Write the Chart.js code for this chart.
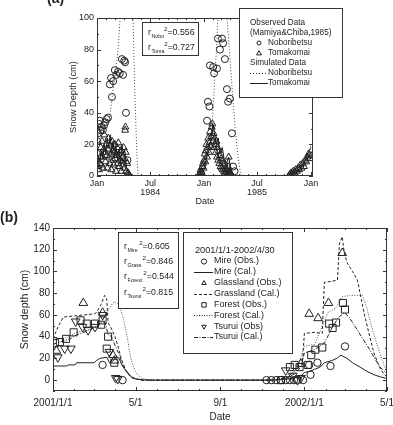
<!DOCTYPE html>
<html>
<head>
<meta charset="utf-8">
<script src="https://cdn.jsdelivr.net/npm/chart.js@4.4.1/dist/chart.umd.min.js"></script>
<style>
  html, body { margin: 0; padding: 0; background: #fff; }
  #wrap { position: relative; width: 393px; height: 425px; overflow: hidden; }
  canvas { position: absolute; left: 0; }
  #ca { top: 0; }
  #cb { top: 210px; }
</style>
</head>
<body>
<div id="wrap">
  <canvas id="ca" width="393" height="210"></canvas>
  <canvas id="cb" width="393" height="215"></canvas>
</div>
<script>
// ---- (a) 1984-1985, x = days since 1984/1/1 ----
const aTickDays = [0, 182, 366, 547, 731];
const aTickLabels = ['Jan', ['Jul', '1984'], 'Jan', ['Jul', '1985'], 'Jan'];
const aYTicks = [0, 20, 40, 60, 80, 100];

const noboObsDay = [1, 3, 6, 9, 12, 16, 20, 24, 28, 33, 38, 44, 48, 51, 55, 61, 66, 72, 78, 85, 89, 93, 96, 99, 104,
  376, 379, 384, 386, 397, 400, 410, 413, 420, 427, 431, 437, 444, 448, 454, 461, 465, 470];
const noboObsCm = [22, 27, 33, 35, 29, 31, 29, 32, 34, 36, 37, 58, 62, 50, 60, 67, 64, 66, 65, 74, 64, 73, 72, 40, 10,
  35, 47, 44, 70, 69, 65, 68, 87, 80, 87, 84, 74, 55, 47, 49, 27, 6, 3];

const tomaObsDay = [1, 3, 5, 7, 9, 11, 13, 15, 17, 19, 21, 23, 25, 27, 29, 31, 33, 35, 37, 39, 41, 43, 45, 47, 49,
  51, 53, 55, 57, 59, 61, 63, 65, 67, 69, 71, 73, 75, 77, 79, 81, 83, 85, 87, 89, 91, 93, 95, 96, 97, 98, 100, 103, 106, 109, 112,
  350, 352, 354, 356, 358, 360, 362, 364, 366, 368, 370, 372, 374, 376, 378, 380, 382, 384, 386, 388,
  390, 392, 394, 396, 398, 400, 402, 404, 406, 408, 410, 412, 414, 416, 418, 420, 422, 424, 426, 428,
  430, 432, 434, 436, 438, 440, 442, 444, 446, 448, 450, 452, 454, 456, 458, 460,
  655, 659, 663, 667, 671, 675, 679, 683, 687, 691, 695, 699, 703, 707, 711, 715, 719, 723, 727, 731];
const tomaObsCm = [10, 6, 14, 4, 8, 12, 18, 7, 22, 12, 5, 17, 26, 15, 9, 20, 13, 5, 17, 24, 12, 8, 19, 14, 4,
  22, 16, 10, 7, 15, 20, 11, 3, 13, 18, 8, 21, 14, 6, 10, 16, 3, 9, 12, 7, 18, 5, 11, 29, 31, 15, 3, 8, 2, 1, 0,
  1, 2, 4, 3, 2, 6, 8, 5, 10, 14, 9, 16, 20, 12, 18, 24, 15, 21, 28, 19,
  25, 31, 33, 22, 27, 18, 24, 20, 15, 22, 12, 18, 10, 16, 8, 13, 6, 11, 5, 9,
  4, 7, 3, 8, 2, 5, 3, 4, 2, 6, 12, 3, 1, 2, 1, 0,
  0, 1, 2, 1, 3, 2, 4, 3, 5, 4, 7, 5, 8, 6, 10, 9, 12, 14, 11, 13];

const noboSimDay = [0, 10, 25, 44, 52, 61, 72, 79, 90, 105, 115, 123, 130, 136, 140,
  340, 355, 369, 380, 393, 400, 408, 413, 425, 435, 444, 452, 462, 472, 482, 490, 495,
  650, 670, 690, 705, 715, 725, 731];
const noboSimCm = [24, 28, 32, 38, 50, 63, 80, 100, 120, 130, 120, 100, 48, 15, 0,
  0, 1, 5, 15, 30, 55, 80, 100, 125, 120, 100, 80, 55, 30, 12, 2, 0,
  0, 1, 3, 6, 10, 15, 20];

const tomaSimDay = [0, 5, 10, 15, 20, 25, 30, 35, 40, 45, 50, 55, 60, 65, 70, 75, 80, 85, 90, 95, 100, 105, 110, 115,
  345, 355, 365, 372, 380, 388, 396, 402, 408, 414, 420, 428, 435, 442, 450, 458, 465, 472,
  660, 675, 690, 700, 710, 718, 725, 731];
const tomaSimCm = [6, 12, 9, 16, 11, 20, 14, 24, 18, 26, 15, 22, 12, 19, 10, 17, 8, 20, 14, 16, 6, 3, 1, 0,
  0, 2, 5, 10, 16, 22, 33, 26, 20, 24, 14, 18, 10, 8, 12, 4, 1, 0,
  0, 2, 4, 6, 9, 13, 16, 18];

// ---- (b) 2001/1/1-2002/4/30, x = days since 2001/1/1 ----
const bTickDays = [0, 120, 243, 365, 485];
const bTickLabels = ['2001/1/1', '5/1', '9/1', '2002/1/1', '5/1'];
const bYTicks = [0, 20, 40, 60, 80, 100, 120, 140];

const mireObsDay = [72, 101, 310, 317, 324, 331, 338, 344, 350, 355, 363, 372, 374, 384, 403, 424];
const mireObsCm = [14, 0, 0, 0, 0, 0, 0, 0, 0, 0, 0, 14, 5, 16, 13, 31];
const glassObsDay = [5, 44, 72, 87, 89, 360, 372, 385, 400, 420];
const glassObsCm = [27, 71, 62, 23, 18, 15, 61, 57, 71, 117];
const forestObsDay = [3, 10, 19, 30, 40, 49, 61, 70, 72, 78, 80, 89, 331, 344, 351, 358, 370, 375, 381, 391, 401, 406, 411, 421, 424];
const forestObsCm = [34, 35, 38, 44, 55, 52, 52, 51, 55, 29, 40, 16, 0, 12, 14, 12, 14, 23, 28, 30, 52, 48, 53, 71, 65];
const tsuruiObsDay = [7, 17, 26, 33, 43, 51, 61, 72, 82, 91, 94, 338, 348, 355, 360];
const tsuruiObsCm = [21, 29, 29, 54, 49, 46, 49, 60, 26, 2, 1, 9, 4, 0, 2];

const mireCalDay = [0, 20, 22, 32, 34, 60, 63, 68, 78, 82, 88, 92, 96, 100, 105, 110, 115, 120, 130, 140,
  320, 340, 350, 360, 365, 372, 380, 388, 394, 405, 412, 418, 427, 435, 446, 456, 466, 475, 485];
const mireCalCm = [13, 13, 14, 14, 16, 16, 18, 20, 21, 16, 18, 22, 20, 14, 9, 5, 2.5, 1.2, 0.4, 0,
  0, 1, 2, 4, 7, 8, 10, 12, 16, 18, 20, 23, 20, 16, 12, 8, 5, 3, 1.5];
const grassCalDay = [0, 8, 15, 30, 45, 60, 63, 70, 75, 78, 80, 85, 90, 94, 99, 105, 110, 115, 120, 130, 140,
  320, 330, 341, 350, 355, 362, 365, 380, 391, 394, 405, 413, 416, 420, 423, 427, 435, 442, 452, 460, 466, 474, 480, 485];
const grassCalCm = [38, 50, 58, 59, 60, 61, 62, 70, 78, 75, 53, 47, 40, 32, 20, 10, 5, 2, 1, 0, 0,
  0, 1, 3, 8, 11, 14, 43, 44, 43, 90, 91, 92, 126, 132, 117, 108, 100, 92, 61, 40, 25, 12, 6, 3];
const forestCalDay = [0, 10, 20, 34, 45, 55, 65, 75, 82, 87, 90, 95, 101, 108, 113, 120, 128, 135, 145,
  320, 340, 355, 365, 380, 399, 410, 420, 435, 449, 455, 461, 467, 473, 480, 485];
const forestCalCm = [38, 38, 39, 44, 45, 47, 50, 58, 66, 71, 72, 70, 60, 39, 20, 7, 2, 0.5, 0,
  0, 2, 12, 31, 33, 62, 66, 77, 78, 78, 68, 53, 40, 28, 15, 8];
const tsuruiCalDay = [0, 15, 25, 35, 45, 55, 65, 72, 76, 80, 85, 90, 95, 100, 105, 110, 115, 120, 130, 140,
  320, 340, 351, 360, 365, 380, 395, 405, 415, 423, 430, 440, 450, 460, 466, 475, 485];
const tsuruiCalCm = [33, 36, 38, 42, 44, 47, 50, 54, 52, 42, 40, 32, 25, 16, 10, 6, 3, 1, 0, 0,
  0, 2, 6, 12, 25, 28, 35, 48, 58, 62, 58, 48, 38, 28, 21, 12, 6];

const FONT = '"Liberation Sans", Arial, sans-serif';
const INK = '#222';
Chart.defaults.font.family = FONT;
Chart.defaults.color = INK;

const pts = (xs, ys) => xs.map((x, i) => ({x: x, y: ys[i]}));

// month starts (minor ticks), in days from Jan 1 of y0
function monthStarts(y0, n) {
  const out = [];
  const t0 = Date.UTC(y0, 0, 1);
  for (let m = 1; m < n; m++) out.push(Math.round((Date.UTC(y0, m, 1) - t0) / 864e5));
  return out;
}

function mark(c, type, x, y, r) {
  c.beginPath();
  if (type === 'circle') c.arc(x, y, r, 0, Math.PI * 2);
  else if (type === 'rect') c.rect(x - r, y - r, 2 * r, 2 * r);
  else if (type === 'tri') { c.moveTo(x, y - r); c.lineTo(x + r * 0.87, y + r * 0.5); c.lineTo(x - r * 0.87, y + r * 0.5); c.closePath(); }
  else if (type === 'tridown') { c.moveTo(x, y + r); c.lineTo(x + r * 0.87, y - r * 0.5); c.lineTo(x - r * 0.87, y - r * 0.5); c.closePath(); }
  c.stroke();
}

function box(c, x, y, w, h) {
  c.fillStyle = '#fff';
  c.fillRect(x, y, w, h);
  c.strokeStyle = '#333';
  c.lineWidth = 1;
  c.strokeRect(x, y, w, h);
}

// r with subscript and superscript 2
function rsq(c, x, y, sub, val, size, gap) {
  c.fillStyle = INK;
  c.textAlign = 'left';
  c.textBaseline = 'middle';
  c.font = size + 'px ' + FONT;
  c.fillText('r', x, y);
  const w = c.measureText('r').width;
  c.font = (size * 0.6) + 'px ' + FONT;
  c.fillText(sub, x + w + 0.5, y + size * 0.4);
  const sw = c.measureText(sub).width + gap;
  c.font = (size * 0.7) + 'px ' + FONT;
  c.fillText('2', x + w + sw, y - size * 0.4);
  const w2 = c.measureText('2').width;
  c.font = size + 'px ' + FONT;
  c.fillText('=' + val, x + w + sw + w2, y);
}

// frame box + inward ticks on all sides
const frame = {
  id: 'frame',
  afterDatasetsDraw(chart, args, opts) {
    const {ctx, chartArea: a, scales: {x, y}} = chart;
    ctx.save();
    ctx.strokeStyle = '#333';
    ctx.lineWidth = 1;
    ctx.setLineDash([]);
    ctx.strokeRect(a.left + 0.5, a.top + 0.5, a.right - a.left - 1, a.bottom - a.top - 1);
    ctx.beginPath();
    const tx = (vals, len) => vals.forEach(v => {
      const p = Math.round(x.getPixelForValue(v)) + 0.5;
      ctx.moveTo(p, a.bottom); ctx.lineTo(p, a.bottom - len);
      ctx.moveTo(p, a.top); ctx.lineTo(p, a.top + len);
    });
    const ty = (vals, len) => vals.forEach(v => {
      const p = Math.round(y.getPixelForValue(v)) + 0.5;
      ctx.moveTo(a.left, p); ctx.lineTo(a.left + len, p);
      ctx.moveTo(a.right, p); ctx.lineTo(a.right - len, p);
    });
    tx(x.ticks.map(t => t.value), 4);
    tx(opts.xMinor || [], 2);
    ty(y.ticks.map(t => t.value), 4);
    ty(opts.yMinor || [], 2);
    ctx.stroke();
    ctx.restore();
  }
};

const legendA = {
  id: 'legendA',
  afterDraw(chart) {
    const c = chart.ctx;
    c.save();
    c.fillStyle = INK;
    c.font = 'bold 14px ' + FONT;
    c.textBaseline = 'alphabetic';
    c.fillText('(a)', 47, 3);
    box(c, 142.5, 22.5, 56, 33);
    rsq(c, 148, 33, 'Nobo', '0.556', 8.8, 0.5);
    rsq(c, 148, 48, 'Toma', '0.727', 8.8, 0.5);
    box(c, 239.5, 8.5, 103, 89);
    c.fillStyle = INK;
    c.font = '8.2px ' + FONT;
    c.textBaseline = 'middle';
    c.textAlign = 'left';
    c.fillText('Observed Data', 250, 23);
    c.fillText('(Mamiya&Chiba,1985)', 250, 33);
    c.fillText('Noboribetsu', 268, 43);
    c.fillText('Tomakomai', 268, 53);
    c.fillText('Simulated Data', 250, 63);
    c.fillText('Noboribetsu', 268, 73);
    c.fillText('Tomakomai', 268, 83);
    c.strokeStyle = INK;
    c.lineWidth = 1;
    mark(c, 'circle', 259, 43, 2);
    mark(c, 'tri', 259, 53.5, 2.8);
    c.beginPath(); c.setLineDash([1, 2]); c.moveTo(250, 73.5); c.lineTo(268, 73.5); c.stroke();
    c.beginPath(); c.setLineDash([]); c.moveTo(250, 83.5); c.lineTo(268, 83.5); c.stroke();
    c.restore();
  }
};

const legBItems = [
  {t: 'Mire (Obs.)', m: 'circle'},
  {t: 'Mire (Cal.)', d: []},
  {t: 'Glassland (Obs.)', m: 'tri'},
  {t: 'Grassland (Cal.)', d: [3, 2]},
  {t: 'Forest (Obs.)', m: 'rect'},
  {t: 'Forest (Cal.)', d: [1, 1.5]},
  {t: 'Tsurui (Obs)', m: 'tridown'},
  {t: 'Tsurui (Cal.)', d: [4, 1.5, 1, 1.5]}
];

const legendB = {
  id: 'legendB',
  afterDraw(chart) {
    const c = chart.ctx;
    c.save();
    c.fillStyle = INK;
    c.font = 'bold 14px ' + FONT;
    c.textBaseline = 'alphabetic';
    c.fillText('(b)', 0, 12);
    box(c, 118.5, 22.5, 60, 76);
    rsq(c, 124, 37, 'Mire', '0.605', 8.8, 2);
    rsq(c, 124, 52, 'Grass', '0.846', 8.8, 1.5);
    rsq(c, 124, 67, 'Forest', '0.544', 8.8, 1.5);
    rsq(c, 124, 83, 'Tsurui', '0.815', 8.8, 1.5);
    box(c, 183.5, 22.5, 109, 121);
    c.fillStyle = INK;
    c.font = '9.2px ' + FONT;
    c.textBaseline = 'middle';
    c.textAlign = 'left';
    c.fillText('2001/1/1-2002/4/30', 195, 40);
    c.font = '9px ' + FONT;
    c.strokeStyle = INK;
    c.lineWidth = 1;
    legBItems.forEach((it, i) => {
      const y = 51 + i * 10.85;
      c.fillText(it.t, 214, y);
      if (it.m) {
        c.setLineDash([]);
        mark(c, it.m, 204, y + 0.5, it.m === 'rect' ? 2.2 : 2.6);
      } else {
        c.beginPath();
        c.setLineDash(it.d);
        c.moveTo(194, Math.round(y) + 0.5);
        c.lineTo(213, Math.round(y) + 0.5);
        c.stroke();
      }
    });
    c.restore();
  }
};

function obs(data, style, r, rot) {
  return {data: data, showLine: false, pointStyle: style, pointRadius: r, pointRotation: rot || 0,
    pointBorderColor: INK, pointBackgroundColor: 'rgba(0,0,0,0)', pointBorderWidth: 1};
}
function line(data, dash, color) {
  return {data: data, showLine: true, pointRadius: 0, borderColor: color || INK, borderWidth: 1,
    borderDash: dash, tension: 0};
}

function axisX(min, max, tickDays, tickLabels, size, titlePad, tickPad, h, lh) {
  return {
    type: 'linear', min: min, max: max,
    grid: {display: false, drawTicks: false},
    border: {display: false},
    afterBuildTicks: s => { s.ticks = tickDays.map(v => ({value: v})); },
    afterFit: s => { s.height = h; s.paddingLeft = 0; s.paddingRight = 0; },
    ticks: {
      autoSkip: false, maxRotation: 0, minRotation: 0, padding: tickPad,
      font: {size: size, lineHeight: lh}, color: INK,
      callback: v => tickLabels[tickDays.indexOf(v)]
    },
    title: {display: true, text: 'Date', font: {size: size}, color: INK, padding: {top: 0, bottom: titlePad}}
  };
}
function axisY(min, max, ticksList, size, title, titleSize, titlePad, w) {
  return {
    type: 'linear', min: min, max: max,
    grid: {display: false, drawTicks: false},
    border: {display: false},
    afterBuildTicks: s => { s.ticks = ticksList.map(v => ({value: v})); },
    afterFit: s => { s.width = w; },
    ticks: {padding: 3, font: {size: size}, color: INK},
    title: {display: true, text: title, font: {size: titleSize}, color: INK, padding: {top: titlePad, bottom: 0}}
  };
}

new Chart(document.getElementById('ca'), {
  type: 'scatter',
  data: {
    datasets: [
      obs(pts(noboObsDay, noboObsCm), 'circle', 3.5),
      obs(pts(tomaObsDay, tomaObsCm), 'triangle', 4),
      line(pts(noboSimDay, noboSimCm), [1, 2], '#444'),
      line(pts(tomaSimDay, tomaSimCm), [], '#111')
    ]
  },
  options: {
    responsive: false, animation: false, devicePixelRatio: 1,
    layout: {padding: {left: 60, right: 80, top: 18, bottom: 0}},
    plugins: {
      legend: {display: false}, tooltip: {enabled: false},
      frame: {xMinor: monthStarts(1984, 24).filter(d => aTickDays.indexOf(d) < 0), yMinor: [10, 30, 50, 70, 90]}
    },
    scales: {
      x: axisX(0, 738, aTickDays, aTickLabels, 9, 2.6, 3, 34, 1.0),
      y: axisY(0, 100, aYTicks, 9, 'Snow Depth (cm)', 9.3, 7.4, 37)
    }
  },
  plugins: [frame, legendA]
});

new Chart(document.getElementById('cb'), {
  type: 'scatter',
  data: {
    datasets: [
      obs(pts(mireObsDay, mireObsCm), 'circle', 3.7),
      obs(pts(glassObsDay, glassObsCm), 'triangle', 5),
      obs(pts(forestObsDay, forestObsCm), 'rect', 5),
      obs(pts(tsuruiObsDay, tsuruiObsCm), 'triangle', 5, 180),
      line(pts(mireCalDay, mireCalCm), []),
      line(pts(grassCalDay, grassCalCm), [3, 2]),
      line(pts(forestCalDay, forestCalCm), [1, 1.5], '#555'),
      line(pts(tsuruiCalDay, tsuruiCalCm), [4, 1.5, 1, 1.5])
    ]
  },
  options: {
    responsive: false, animation: false, devicePixelRatio: 1,
    layout: {padding: {left: 10, right: 3, top: 18, bottom: 0}},
    plugins: {
      legend: {display: false}, tooltip: {enabled: false},
      frame: {xMinor: monthStarts(2001, 16).filter(d => bTickDays.indexOf(d) < 0), yMinor: [-10, 10, 30, 50, 70, 90, 110, 130]}
    },
    scales: {
      x: axisX(0, 485, bTickDays, bTickLabels, 10, 2, 6, 34, 1.2),
      y: axisY(-10, 140, bYTicks, 10, 'Snow depth (cm)', 10.5, 8.7, 43)
    }
  },
  plugins: [frame, legendB]
});
</script>
</body>
</html>
